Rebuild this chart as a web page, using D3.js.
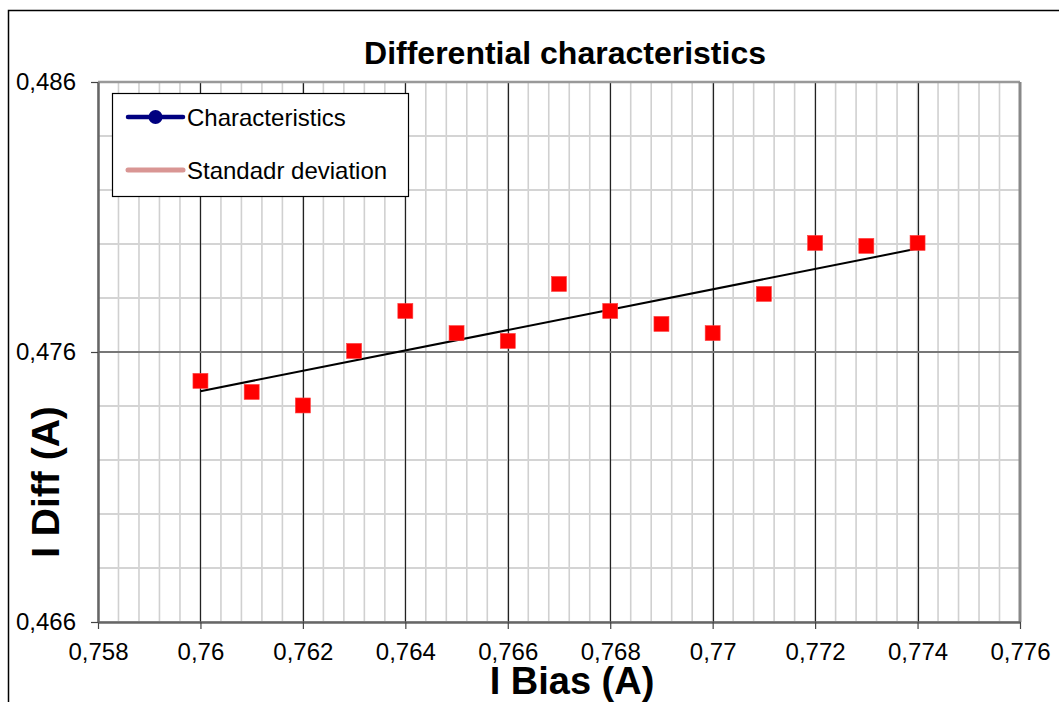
<!DOCTYPE html>
<html>
<head>
<meta charset="utf-8">
<script src="https://cdn.jsdelivr.net/npm/d3@7"></script>
<style>
  html, body { margin: 0; padding: 0; background: #fff; }
  svg { display: block; font-family: "Liberation Sans", Arial, sans-serif; }
</style>
</head>
<body>
<svg id="chart" width="1059" height="702"></svg>
<script>
// ---- data ----
const xValues = [0.760, 0.761, 0.762, 0.763, 0.764, 0.765, 0.766, 0.767, 0.768, 0.769, 0.770, 0.771, 0.772, 0.773, 0.774];
const yValues = [0.47493, 0.47452, 0.47402, 0.47604, 0.47752, 0.47670, 0.47641, 0.47852, 0.47752, 0.47704, 0.47670, 0.47815, 0.48004, 0.47993, 0.48004];
const trendX = [0.760, 0.774];
const trendY = [0.47455, 0.47983];
const xTicks = [0.758, 0.760, 0.762, 0.764, 0.766, 0.768, 0.770, 0.772, 0.774, 0.776];
const yTicks = [0.466, 0.476, 0.486];
const xMinorStep = 0.0004;
const yMinorStep = 0.002;
const legendLabels = ["Characteristics", "Standadr deviation"];
const titleText = "Differential characteristics";
const xTitle = "I Bias (A)";
const yTitle = "I Diff (A)";

const svg = d3.select("#chart");
const L = 98, R = 1020, T = 82, B = 622;
const x = d3.scaleLinear().domain([0.758, 0.776]).range([L, R]);
const y = d3.scaleLinear().domain([0.466, 0.486]).range([B, T]);
const fmt = v => String(+v.toFixed(4)).replace(".", ",");

// outer border
svg.append("rect").attr("x", 8.5).attr("y", 10.5).attr("width", 1070).attr("height", 720)
  .attr("fill", "none").attr("stroke", "#000").attr("stroke-width", 1.5);

// minor grid
const nxMinor = Math.round((0.776 - 0.758) / xMinorStep);
const xMinor = d3.range(nxMinor + 1).map(i => 0.758 + i * xMinorStep);
const nyMinor = Math.round((0.486 - 0.466) / yMinorStep);
const yMinor = d3.range(nyMinor + 1).map(i => 0.466 + i * yMinorStep);

svg.append("g").selectAll("line").data(xMinor).join("line")
  .attr("x1", d => x(d)).attr("x2", d => x(d)).attr("y1", T).attr("y2", B)
  .attr("stroke", "#d0d0d0").attr("stroke-width", 1.6);
svg.append("g").selectAll("line").data(yMinor).join("line")
  .attr("y1", d => y(d)).attr("y2", d => y(d)).attr("x1", L).attr("x2", R)
  .attr("stroke", "#d4d4d4").attr("stroke-width", 2);

// major grid
svg.append("g").selectAll("line").data(xTicks.slice(1, -1)).join("line")
  .attr("x1", d => Math.round(x(d)) + 0.5).attr("x2", d => Math.round(x(d)) + 0.5).attr("y1", T).attr("y2", B)
  .attr("stroke", "#222").attr("stroke-width", 1.2);
svg.append("g").selectAll("line").data(yTicks.slice(1, -1)).join("line")
  .attr("y1", d => y(d)).attr("y2", d => y(d)).attr("x1", L).attr("x2", R)
  .attr("stroke", "#777").attr("stroke-width", 2);

// plot frame: top and right
svg.append("line").attr("x1", L).attr("x2", R).attr("y1", T).attr("y2", T)
  .attr("stroke", "#999").attr("stroke-width", 2.5);
svg.append("line").attr("x1", R).attr("x2", R).attr("y1", T).attr("y2", B)
  .attr("stroke", "#888").attr("stroke-width", 3);

// axes
const xAxis = svg.append("g").attr("transform", `translate(0,${B})`)
  .call(d3.axisBottom(x).tickValues(xTicks).tickFormat(fmt).tickSizeInner(7).tickSizeOuter(0).tickPadding(14));
const yAxis = svg.append("g").attr("transform", `translate(${L},0)`)
  .call(d3.axisLeft(y).tickValues(yTicks).tickFormat(fmt).tickSizeInner(7).tickSizeOuter(0).tickPadding(15));
[xAxis, yAxis].forEach(a => {
  a.select(".domain").attr("stroke", "#666").attr("stroke-width", 2.5);
  a.selectAll(".tick line").attr("stroke", "#444").attr("stroke-width", 1.2);
  a.selectAll(".tick text").attr("font-size", 24).attr("fill", "#000")
    .attr("font-family", "Liberation Sans, Arial, sans-serif");
});
xAxis.selectAll(".tick text").attr("dy", "0.71em");

// trend line
svg.append("path")
  .datum(d3.zip(trendX, trendY))
  .attr("d", d3.line().x(d => x(d[0])).y(d => y(d[1])))
  .attr("fill", "none").attr("stroke", "#000").attr("stroke-width", 2);

// markers
const ms = 15;
svg.append("g").selectAll("rect").data(d3.zip(xValues, yValues)).join("rect")
  .attr("x", d => x(d[0]) - ms / 2).attr("y", d => y(d[1]) - ms / 2)
  .attr("width", ms).attr("height", ms)
  .attr("fill", "#ff0000").attr("stroke", "#ff4040").attr("stroke-width", 0.6);

// legend
const lg = svg.append("g");
lg.append("rect").attr("x", 112.5).attr("y", 93.5).attr("width", 296).attr("height", 103)
  .attr("fill", "#fff").attr("stroke", "#000").attr("stroke-width", 1.2);
lg.append("line").attr("x1", 128).attr("x2", 183).attr("y1", 117).attr("y2", 117)
  .attr("stroke", "#000080").attr("stroke-width", 4.5).attr("stroke-linecap", "round");
lg.append("circle").attr("cx", 155.5).attr("cy", 117).attr("r", 7).attr("fill", "#000080");
lg.append("line").attr("x1", 128).attr("x2", 183).attr("y1", 170).attr("y2", 170)
  .attr("stroke", "#d99694").attr("stroke-width", 5).attr("stroke-linecap", "round");
lg.selectAll("text").data(legendLabels).join("text")
  .attr("x", 187).attr("y", (d, i) => 125.5 + i * 53)
  .attr("font-size", 24).attr("fill", "#000").text(d => d);

// titles
svg.append("text").attr("x", 565).attr("y", 64).attr("text-anchor", "middle")
  .attr("font-size", 32).attr("font-weight", "bold").text(titleText);
svg.append("text").attr("x", 572).attr("y", 694).attr("text-anchor", "middle")
  .attr("font-size", 38).attr("font-weight", "bold").text(xTitle);
svg.append("text").attr("transform", "translate(59,482) rotate(-90)").attr("text-anchor", "middle")
  .attr("font-size", 39).attr("font-weight", "bold").text(yTitle);
</script>
</body>
</html>
